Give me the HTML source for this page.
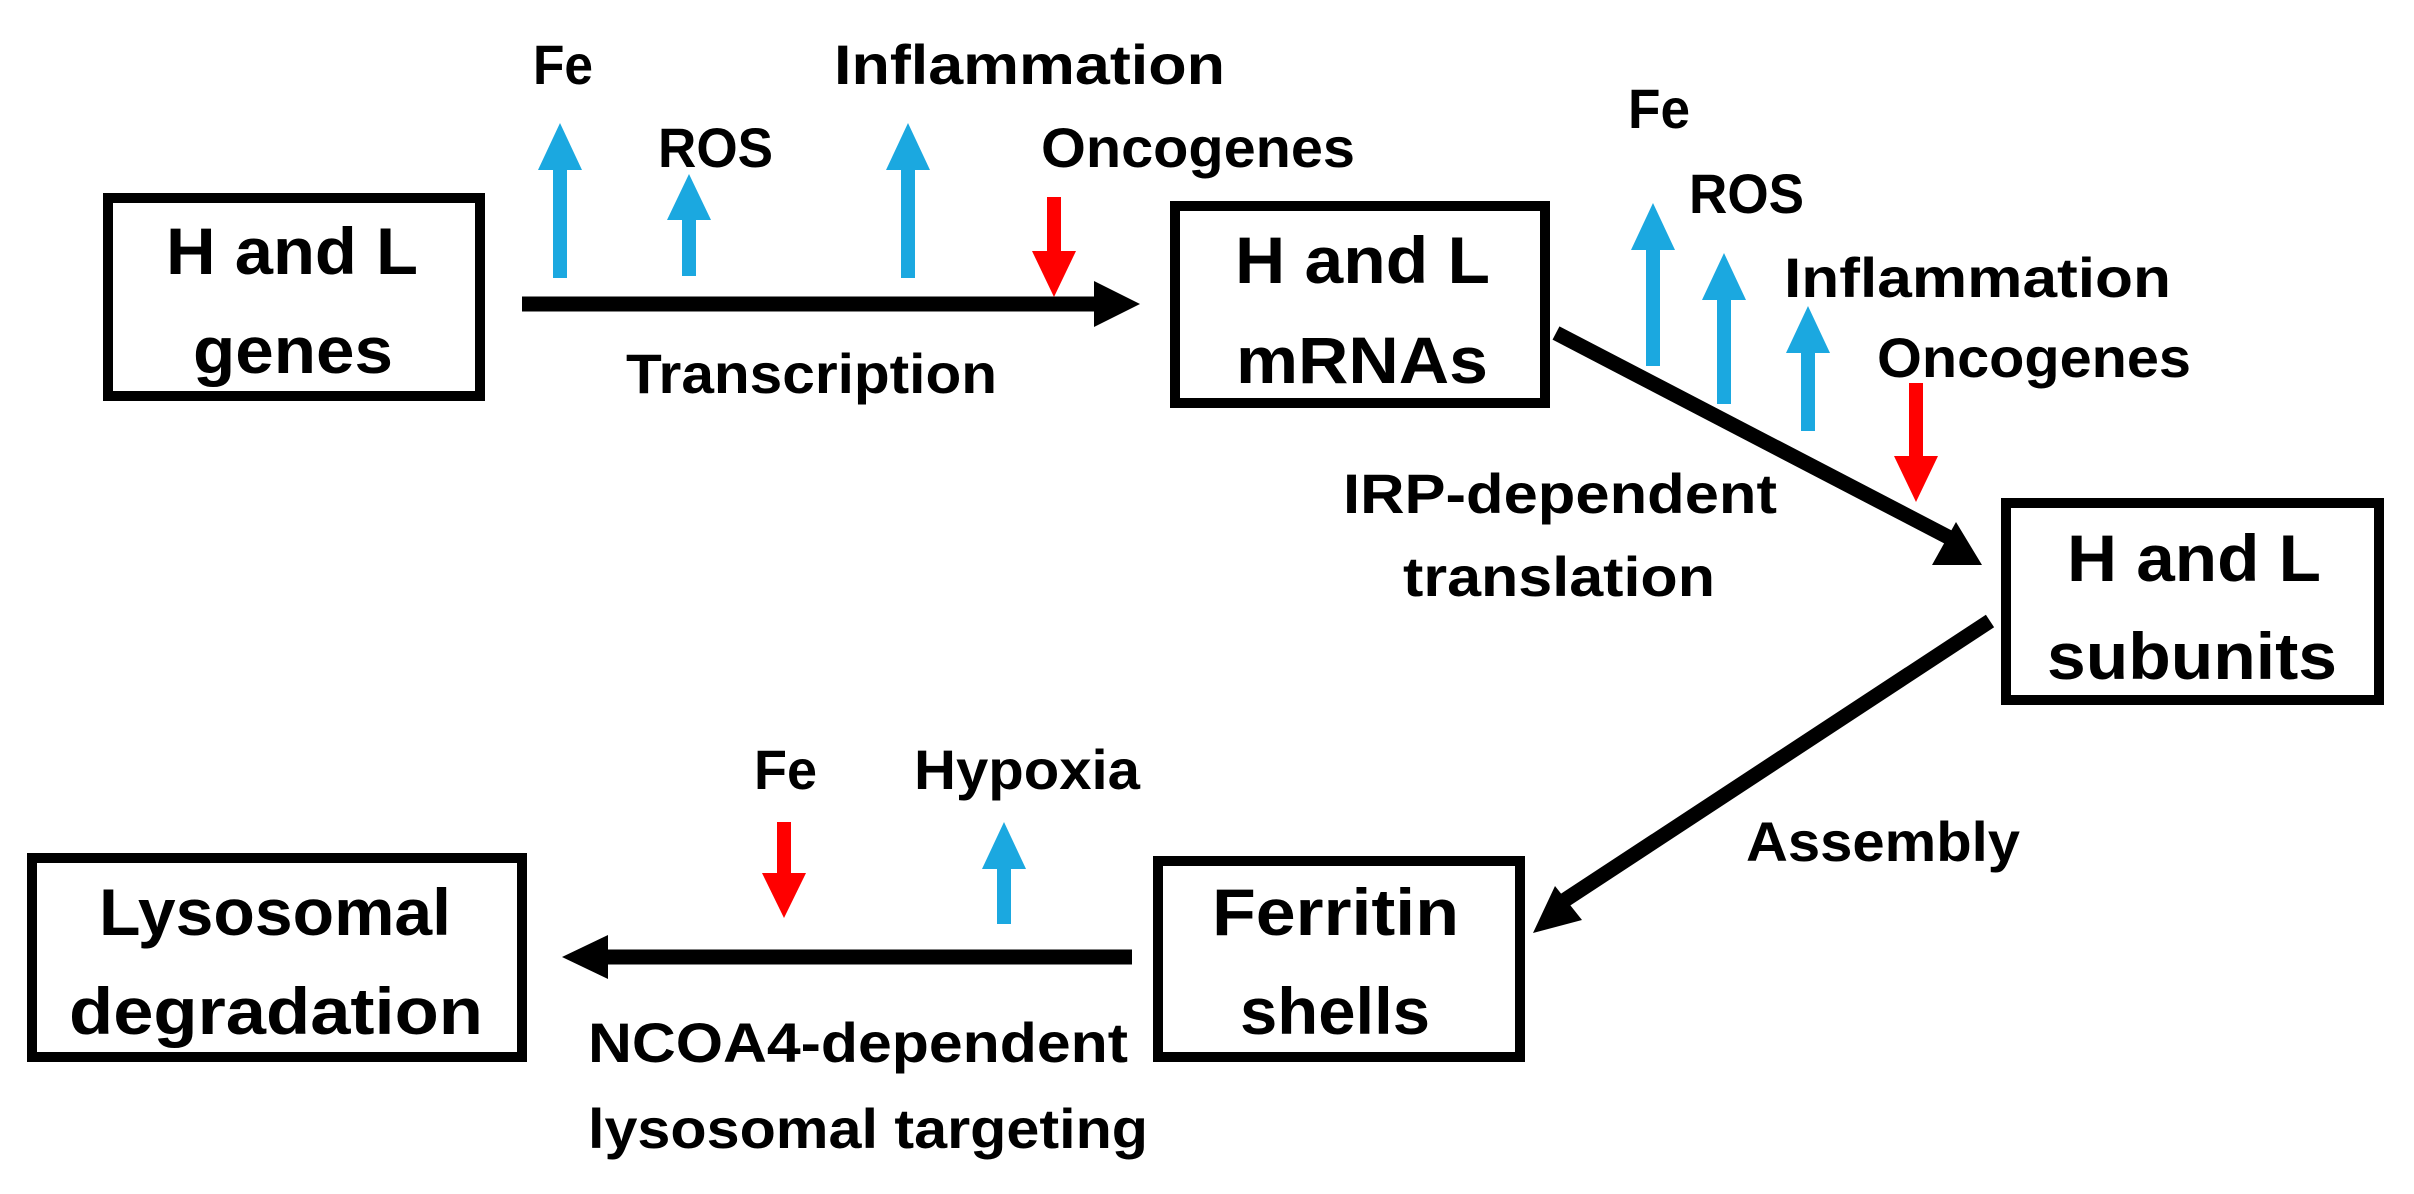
<!DOCTYPE html>
<html><head><meta charset="utf-8"><style>html,body{margin:0;padding:0;background:#fff}svg{display:block}</style></head>
<body>
<svg width="2414" height="1194" viewBox="0 0 2414 1194" xmlns="http://www.w3.org/2000/svg" font-family="Liberation Sans, sans-serif" font-weight="bold">
<rect width="2414" height="1194" fill="#fff"/>
<g fill="none" stroke="#000" stroke-width="10">
<rect x="108" y="198" width="372" height="198"/>
<rect x="1175" y="206" width="370" height="197"/>
<rect x="2006" y="503" width="373" height="197"/>
<rect x="1158" y="861" width="362" height="196"/>
<rect x="32" y="858" width="490" height="199"/>
</g>
<g font-size="66" text-anchor="start">
<text x="166" y="274" textLength="252" lengthAdjust="spacingAndGlyphs">H and L</text>
<text x="193" y="373" textLength="200" lengthAdjust="spacingAndGlyphs">genes</text>
<text x="1235" y="283" textLength="255" lengthAdjust="spacingAndGlyphs">H and L</text>
<text x="1236" y="383" textLength="252" lengthAdjust="spacingAndGlyphs">mRNAs</text>
<text x="2067" y="581" textLength="254" lengthAdjust="spacingAndGlyphs">H and L</text>
<text x="2047" y="679" textLength="290" lengthAdjust="spacingAndGlyphs">subunits</text>
<text x="1212" y="935" textLength="247" lengthAdjust="spacingAndGlyphs">Ferritin</text>
<text x="1240" y="1034" textLength="190" lengthAdjust="spacingAndGlyphs">shells</text>
<text x="99" y="935" textLength="352" lengthAdjust="spacingAndGlyphs">Lysosomal</text>
<text x="69" y="1034" textLength="414" lengthAdjust="spacingAndGlyphs">degradation</text>
</g>
<g font-size="56">
<text x="533" y="84" textLength="60" lengthAdjust="spacingAndGlyphs">Fe</text>
<text x="658" y="167" textLength="115" lengthAdjust="spacingAndGlyphs">ROS</text>
<text x="834" y="84" textLength="391" lengthAdjust="spacingAndGlyphs">Inflammation</text>
<text x="1041" y="167" textLength="314" lengthAdjust="spacingAndGlyphs">Oncogenes</text>
<text x="626" y="393" textLength="371" lengthAdjust="spacingAndGlyphs">Transcription</text>
<text x="1628" y="128" textLength="62" lengthAdjust="spacingAndGlyphs">Fe</text>
<text x="1689" y="213" textLength="115" lengthAdjust="spacingAndGlyphs">ROS</text>
<text x="1784" y="297" textLength="387" lengthAdjust="spacingAndGlyphs">Inflammation</text>
<text x="1877" y="377" textLength="314" lengthAdjust="spacingAndGlyphs">Oncogenes</text>
<text x="1343" y="513" textLength="434" lengthAdjust="spacingAndGlyphs">IRP-dependent</text>
<text x="1403" y="596" textLength="312" lengthAdjust="spacingAndGlyphs">translation</text>
<text x="1746" y="861" textLength="274" lengthAdjust="spacingAndGlyphs">Assembly</text>
<text x="754" y="789" textLength="63" lengthAdjust="spacingAndGlyphs">Fe</text>
<text x="914" y="789" textLength="226" lengthAdjust="spacingAndGlyphs">Hypoxia</text>
<text x="588" y="1062" textLength="540" lengthAdjust="spacingAndGlyphs">NCOA4-dependent</text>
<text x="588" y="1148" textLength="560" lengthAdjust="spacingAndGlyphs">lysosomal targeting</text>
</g>
<!-- black arrows -->
<g stroke="#000" stroke-width="15" fill="none">
<line x1="522" y1="304" x2="1100" y2="304"/>
<line x1="1556" y1="333" x2="1950" y2="538"/>
<line x1="1990" y1="621" x2="1565" y2="900"/>
<line x1="1132" y1="957" x2="600" y2="957"/>
</g>
<g fill="#000">
<polygon points="1094,281 1140,304 1094,327"/>
<polygon points="1982,565 1932,565 1956,522" transform="rotate(0)"/>
<polygon points="1533,933 1555,886 1582,920"/>
<polygon points="562,957 608,935 608,979"/>
</g>
<!-- blue arrows -->
<g fill="#1ba8e0">
<rect x="553" y="165" width="14" height="113"/><polygon points="538,170 582,170 560,123"/>
<rect x="682" y="215" width="14" height="61"/><polygon points="667,220 711,220 689,174"/>
<rect x="901" y="165" width="14" height="113"/><polygon points="886,170 930,170 908,123"/>
<rect x="1646" y="245" width="14" height="121"/><polygon points="1631,250 1675,250 1653,203"/>
<rect x="1717" y="295" width="14" height="109"/><polygon points="1702,300 1746,300 1724,253"/>
<rect x="1801" y="348" width="14" height="83"/><polygon points="1786,353 1830,353 1808,306"/>
<rect x="997" y="864" width="14" height="60"/><polygon points="982,869 1026,869 1004,822"/>
</g>
<!-- red arrows -->
<g fill="#ff0000">
<rect x="1047" y="197" width="14" height="58"/><polygon points="1032,251 1076,251 1054,297"/>
<rect x="1909" y="383" width="14" height="75"/><polygon points="1894,456 1938,456 1916,502"/>
<rect x="777" y="822" width="14" height="54"/><polygon points="762,873 806,873 784,918"/>
</g>
</svg>
</body></html>
